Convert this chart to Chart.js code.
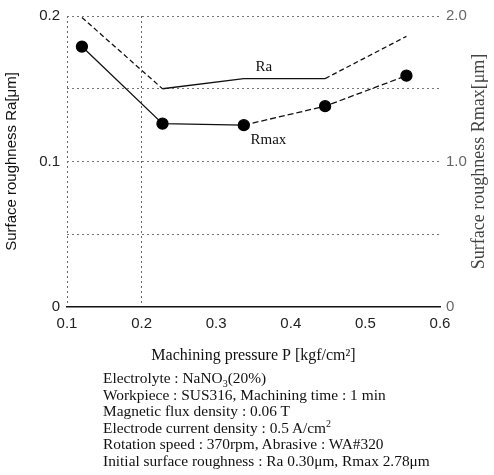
<!DOCTYPE html>
<html>
<head>
<meta charset="utf-8">
<script src="https://cdn.jsdelivr.net/npm/chart.js@4"></script>
<style>
  body { margin: 0; background: #fff; }
  #wrap { position: relative; width: 494px; height: 475px; }
  #notes {
    position: absolute; left: 103px; top: 370px;
    font-family: 'Liberation Serif', serif; font-size: 15.4px; line-height: 16.6px;
    color: #111; white-space: nowrap;
  }
  #notes sub, #notes sup { font-size: 10px; line-height: 0; }
</style>
</head>
<body>
<div id="wrap">
  <canvas id="c" width="494" height="475"></canvas>
  <div id="notes">
    Electrolyte : NaNO<sub>3</sub>(20%)<br>
    Workpiece : SUS316, Machining time : 1 min<br>
    Magnetic flux density : 0.06 T<br>
    Electrode current density : 0.5 A/cm<sup>2</sup><br>
    Rotation speed : 370rpm, Abrasive : WA#320<br>
    Initial surface roughness : Ra 0.30μm, Rmax 2.78μm
  </div>
</div>
<script>
// pressure values (kgf/cm2) and measured roughness
const pressure = [0.12, 0.228, 0.337, 0.446, 0.555];
const raValues = [0.199, 0.150, 0.157, 0.157, 0.186];     // Ra [um], left axis
const rmaxValues = [1.79, 1.26, 1.25, 1.38, 1.59];        // Rmax [um], right axis
const raTicks = [0, 0.1, 0.2];
const rmaxTicks = [0, 1.0, 2.0];

const near = (a, b) => Math.abs(a - b) < 1e-6;

// curve labels + right axis title (reads bottom to top like the left one)
const labelsPlugin = {
  id: 'labelsPlugin',
  afterDraw: (chart) => {
    const { ctx, scales } = chart;
    const x = scales.x, y = scales.y;
    ctx.save();
    ctx.fillStyle = '#111';
    ctx.font = '15px "Liberation Serif"';
    ctx.textAlign = 'center';
    ctx.textBaseline = 'middle';
    ctx.fillText('Ra', x.getPixelForValue(0.364), y.getPixelForValue(0.165));
    ctx.fillText('Rmax', x.getPixelForValue(0.37), y.getPixelForValue(0.115));

    ctx.translate(479, (chart.chartArea.top + chart.chartArea.bottom) / 2);
    ctx.rotate(-Math.PI / 2);
    ctx.fillStyle = '#444';
    ctx.font = '18px "Liberation Serif"';
    ctx.fillText('Surface roughness Rmax[μm]', 0, 0);
    ctx.restore();
  }
};

new Chart(document.getElementById('c').getContext('2d'), {
  type: 'line',
  data: {
    datasets: [
      {
        label: 'Ra',
        data: pressure.map((p, i) => ({ x: p, y: raValues[i] })),
        yAxisID: 'y',
        borderColor: '#111', borderWidth: 1.3, pointRadius: 0, tension: 0,
        segment: { borderDash: (s) => (s.p0DataIndex === 0 || s.p0DataIndex === 3) ? [5, 3] : undefined }
      },
      {
        label: 'Rmax',
        data: pressure.map((p, i) => ({ x: p, y: rmaxValues[i] })),
        yAxisID: 'y2',
        borderColor: '#111', borderWidth: 1.3, tension: 0,
        pointRadius: 5.5, pointBackgroundColor: '#000', pointBorderColor: '#000',
        segment: { borderDash: (s) => s.p0DataIndex >= 2 ? [6, 3] : undefined }
      }
    ]
  },
  options: {
    responsive: false, animation: false,
    layout: { padding: { top: 15, bottom: 107, left: 0, right: 0 } },
    plugins: { legend: { display: false }, tooltip: { enabled: false } },
    scales: {
      x: {
        type: 'linear', min: 0.1, max: 0.6,
        ticks: { stepSize: 0.1, padding: 8, color: '#222', font: { family: 'Liberation Sans', size: 15 },
                 callback: (v) => v.toFixed(1) },
        grid: { drawTicks: false, lineWidth: 1,
                color: (c) => (near(c.tick.value, 0.2) || near(c.tick.value, 0.1)) ? '#666' : 'transparent' },
        border: { color: '#111', width: 1.5, dash: [2, 3] },
        title: { display: true, text: 'Machining pressure P [kgf/cm²]', color: '#111',
                 font: { family: 'Liberation Serif', size: 16 }, padding: { top: 4, bottom: 3 } },
        afterFit: (s) => { s.height = 61; }
      },
      y: {
        position: 'left', min: 0, max: 0.2,
        ticks: { stepSize: 0.05, padding: 7, color: '#222', font: { family: 'Liberation Sans', size: 15 },
                 callback: (v) => {
                   const t = raTicks.find(r => near(r, v));
                   return t === undefined ? '' : (t === 0 ? '0' : t.toFixed(1));
                 } },
        grid: { drawTicks: false, color: (c) => near(c.tick.value, 0) ? 'transparent' : '#777', lineWidth: 1 },
        border: { display: false, dash: [2, 3] },
        title: { display: true, text: 'Surface roughness Ra[μm]', color: '#111',
                 font: { family: 'Liberation Sans', size: 15 }, padding: { top: 3, bottom: 0 } },
        afterFit: (s) => { s.width = 67; }
      },
      y2: {
        position: 'right', min: 0, max: 2,
        ticks: { stepSize: 1, padding: 6, color: '#666', font: { family: 'Liberation Sans', size: 15 },
                 callback: (v) => {
                   const t = rmaxTicks.find(r => near(r, v));
                   return t === undefined ? '' : (t === 0 ? '0' : t.toFixed(1));
                 } },
        grid: { display: false, drawTicks: false },
        border: { display: false },
        afterFit: (s) => { s.width = 54; }
      }
    }
  },
  plugins: [labelsPlugin]
});
</script>
</body>
</html>
